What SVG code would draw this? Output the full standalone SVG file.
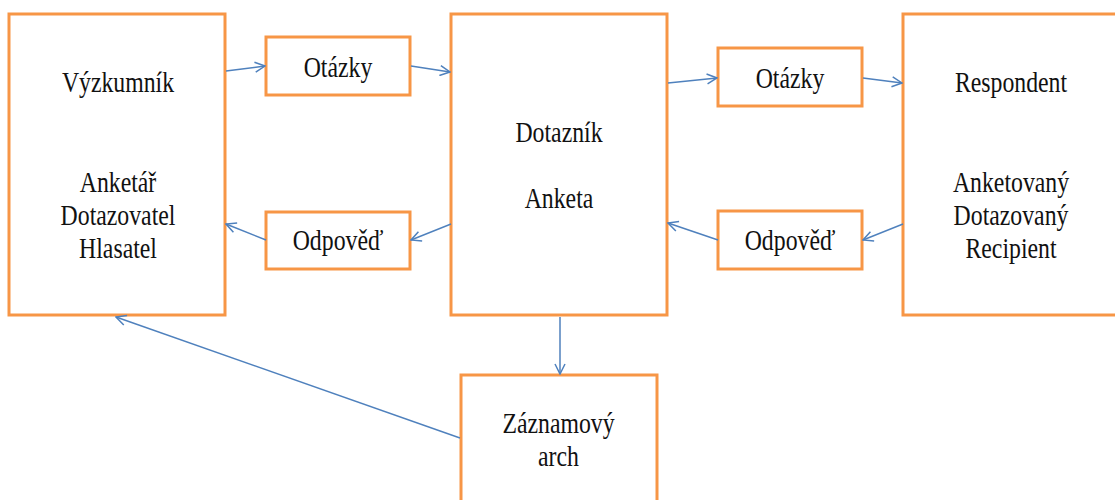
<svg xmlns="http://www.w3.org/2000/svg" width="1115" height="500" viewBox="0 0 1115 500">
<style>
.box{fill:#fff;stroke:#F79646;stroke-width:3}
.c{fill:none;stroke:#4F81BD;stroke-width:1.5}
.t{font-family:"Liberation Serif",serif;font-size:29px;fill:#111;text-anchor:middle}
</style>
<defs>
<marker id="a" viewBox="0 0 12 12" refX="11" refY="6" markerWidth="12" markerHeight="12" markerUnits="userSpaceOnUse" orient="auto">
<path d="M1,1 L11,6 L1,11" fill="none" stroke="#4F81BD" stroke-width="1.5"/>
</marker>
</defs>
<rect width="1115" height="500" fill="#fff"/>
<g id="vyzkumnik">
<rect class="box" x="9" y="14" width="216" height="301"/>
<g transform="translate(118,0) scale(0.82,1)" class="t">
<text x="0" y="92">Výzkumník</text>
<text x="0" y="192">Anketář</text>
<text x="0" y="225">Dotazovatel</text>
<text x="0" y="258">Hlasatel</text>
</g>
</g>
<g id="otazky1">
<rect class="box" x="266" y="37" width="144" height="58"/>
<text class="t" transform="translate(338,0) scale(0.82,1)" x="0" y="77">Otázky</text>
</g>
<g id="odpoved1">
<rect class="box" x="266" y="212" width="144" height="57"/>
<text class="t" transform="translate(338,0) scale(0.82,1)" x="0" y="250">Odpověď</text>
</g>
<g id="dotaznik">
<rect class="box" x="451" y="14" width="216" height="301"/>
<text class="t" transform="translate(559,0) scale(0.82,1)" x="0" y="142">Dotazník</text>
<text class="t" transform="translate(559,0) scale(0.82,1)" x="0" y="208">Anketa</text>
</g>
<g id="otazky2">
<rect class="box" x="718" y="48" width="144" height="58"/>
<text class="t" transform="translate(790,0) scale(0.82,1)" x="0" y="88">Otázky</text>
</g>
<g id="odpoved2">
<rect class="box" x="718" y="211" width="144" height="58"/>
<text class="t" transform="translate(790,0) scale(0.82,1)" x="0" y="250">Odpověď</text>
</g>
<g id="respondent">
<rect class="box" x="903" y="14" width="230" height="301"/>
<g transform="translate(1011,0) scale(0.82,1)" class="t">
<text x="0" y="92">Respondent</text>
<text x="0" y="192">Anketovaný</text>
<text x="0" y="225">Dotazovaný</text>
<text x="0" y="258">Recipient</text>
</g>
</g>
<g id="zaznamovy">
<rect class="box" x="461" y="375" width="196" height="140"/>
<g transform="translate(558.5,0) scale(0.82,1)" class="t">
<text x="0" y="433">Záznamový</text>
<text x="0" y="466">arch</text>
</g>
</g>
<g id="connectors">
<line class="c" x1="226" y1="71" x2="265" y2="66" marker-end="url(#a)"/>
<line class="c" x1="411" y1="66" x2="450" y2="72" marker-end="url(#a)"/>
<line class="c" x1="668" y1="83" x2="717" y2="78" marker-end="url(#a)"/>
<line class="c" x1="863" y1="78" x2="902" y2="83" marker-end="url(#a)"/>
<line class="c" x1="903" y1="224" x2="863" y2="240" marker-end="url(#a)"/>
<line class="c" x1="718" y1="240" x2="668" y2="223" marker-end="url(#a)"/>
<line class="c" x1="451" y1="224" x2="411" y2="240" marker-end="url(#a)"/>
<line class="c" x1="266" y1="240" x2="226" y2="224" marker-end="url(#a)"/>
<line class="c" x1="560" y1="317" x2="560" y2="374" marker-end="url(#a)"/>
<line class="c" x1="460" y1="438" x2="116" y2="317" marker-end="url(#a)"/>
</g>
</svg>
